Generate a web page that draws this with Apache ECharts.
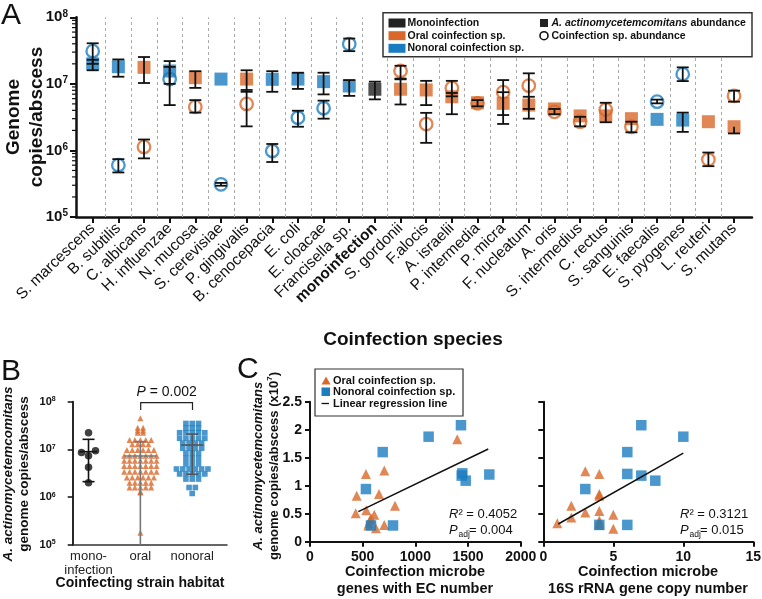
<!DOCTYPE html>
<html><head><meta charset="utf-8">
<script src="https://cdn.jsdelivr.net/npm/echarts@6/dist/echarts.min.js"></script>
<style>html,body{margin:0;padding:0;background:#fff}#c{width:762px;height:599px}</style>
</head><body><div id="c"></div>
<script>
const FONT = 'Liberation Sans, Arial, Helvetica, sans-serif';
const ORANGE = '#d8692a', BLUE = '#1b7dbf', BLACK = '#222';

// ---------- Panel A data ----------
const speciesA = ['S. marcescens','B. subtilis','C. albicans','H. influenzae','N. mucosa','S. cerevisiae','P. gingivalis','B. cenocepacia','E. coli','E. cloacae','Francisella sp.','monoinfection','S. gordonii','F.alocis','A. israelii','P. intermedia','P. micra','F. nucleatum','A. oris','S. intermedius','C. rectus','S. sanguinis','E. faecalis','S. pyogenes','L. reuteri','S. mutans'];
const typeA = ['nonoral','nonoral','oral','nonoral','oral','nonoral','oral','nonoral','nonoral','nonoral','nonoral','mono','oral','oral','oral','oral','oral','oral','oral','oral','oral','oral','nonoral','nonoral','oral','oral'];
const aaMean = [2.0e7,1.81e7,1.77e7,1.56e7,1.24e7,1.18e7,1.18e7,1.17e7,1.18e7,1.08e7,9.3e6,8.3e6,8.3e6,8.1e6,6.4e6,5.2e6,5.1e6,4.8e6,4.2e6,3.3e6,3.3e6,3.0e6,2.93e6,2.86e6,2.7e6,2.27e6];
const aaLow  = [1.6e7,1.28e7,1.03e7,1.0e7,8.7e6,null,7.6e6,7.6e6,8.4e6,6.95e6,6.6e6,5.85e6,4.9e6,4.8e6,3.5e6,null,3.4e6,3.0e6,null,null,null,null,null,1.9e6,null,1.8e6];
const aaHigh = [2.3e7,2.33e7,2.53e7,2.2e7,1.55e7,null,1.6e7,1.55e7,1.47e7,1.47e7,1.14e7,1.08e7,1.17e7,1.11e7,7.3e6,null,7.5e6,6.4e6,null,null,null,null,null,3.7e6,null,null];
const coMean = [3.1e7,6.0e5,1.13e6,1.18e7,4.5e6,3.1e5,5.0e6,9.8e5,3.1e6,4.3e6,3.96e7,null,1.56e7,2.49e6,8.7e6,5.1e6,7.5e6,9.4e6,3.8e6,2.7e6,4.1e6,2.27e6,5.4e6,1.4e7,7.3e5,6.6e6];
const coLow  = [2.0e7,4.67e5,7.6e5,4.8e6,3.7e6,2.95e5,2.3e6,6.7e5,2.27e6,3.0e6,3.1e7,null,1.2e7,1.3e6,6.5e6,4.6e6,2.5e6,4.2e6,3.5e6,2.3e6,2.65e6,1.87e6,5.1e6,1.1e7,5.8e5,5.4e6];
const coHigh = [4.07e7,7.4e5,1.46e6,1.8e7,5.7e6,3.25e5,8.1e6,1.25e6,3.95e6,5.6e6,4.8e7,null,1.87e7,3.67e6,1.11e7,5.7e6,1.14e7,1.44e7,4.2e6,3.2e6,5.2e6,2.7e6,5.8e6,1.77e7,9.3e5,7.9e6];
const minorTicksA = [2e5,3e5,4e5,5e5,6e5,7e5,8e5,9e5,2e6,3e6,4e6,5e6,6e6,7e6,8e6,9e6,2e7,3e7,4e7,5e7,6e7,7e7,8e7,9e7];

// ---------- Panel B data ----------
const habitatB = ['mono-\ninfection','oral','nonoral'];
const monoB = [2.24e7,9.4e6,8.6e6,7.4e6,4.25e6,2.0e6];
const oralB = [4.5e7,2.86e7,2.86e7,2.5e7,2.5e7,2.25e7,2.25e7,
  1.58e7,1.58e7,1.58e7,1.58e7,1.58e7,1.28e7,1.28e7,1.28e7,1.28e7,
  9.8e6,9.8e6,9.8e6,9.8e6,9.8e6,9.8e6,7.4e6,7.4e6,7.4e6,7.4e6,7.4e6,7.4e6,7.4e6,
  5.8e6,5.8e6,5.8e6,5.8e6,5.8e6,5.8e6,5.8e6,4.5e6,4.5e6,4.5e6,4.5e6,4.5e6,4.5e6,4.5e6,
  3.4e6,3.4e6,3.4e6,3.4e6,3.4e6,3.4e6,3.4e6,2.6e6,2.6e6,2.6e6,2.6e6,2.6e6,2.6e6,
  2.0e6,2.0e6,2.0e6,2.0e6,2.0e6,1.6e6,1.6e6,1.6e6,1.6e6,1.6e6,1.3e6,1.25e6,1.8e5];
const nonoralB = [3.5e7,3.5e7,3.5e7,2.8e7,2.8e7,2.8e7,2.24e7,2.24e7,2.24e7,2.24e7,2.24e7,
  1.71e7,1.71e7,1.71e7,1.71e7,1.71e7,1.35e7,1.35e7,1.35e7,1.35e7,1.06e7,1.06e7,1.06e7,1.06e7,
  8.3e6,8.3e6,8.3e6,6.5e6,6.5e6,6.5e6,5.0e6,5.0e6,5.0e6,3.9e6,3.9e6,3.9e6,3.9e6,3.9e6,3.9e6,
  3.07e6,3.07e6,3.07e6,3.07e6,3.07e6,2.4e6,2.4e6,2.4e6,1.6e6,1.6e6,1.2e6];
// mean, -SD (null = below axis), +SD
const statsB = [[9.0e6,2.12e6,1.63e7],[7.3e6,null,1.46e7],[1.24e7,3.03e6,2.1e7]];

// ---------- Panel C data ----------
const ecOral = [[1398,1.83],[705,1.27],[531,1.21],[655,0.85],[443,0.82],[807,0.64],[534,0.56],[434,0.51],[610,0.48],[579,0.42],[569,0.38],[560,0.33],[553,0.29],[705,0.30],[626,0.24]];
const ecNonoral = [[531,0.94],[690,1.6],[1126,1.875],[1433,2.08],[1446,1.22],[1440,1.18],[1478,1.09],[1702,1.2],[579,0.29],[788,0.29]];
const ecReg = [[459,0.536],[1692,1.655]];
const rrnOral = [[3,1.26],[4,1.21],[4,0.85],[4,0.82],[2,0.64],[4,0.55],[3,0.52],[5,0.48],[2,0.43],[4,0.38],[1,0.33],[4,0.30],[5,0.23],[4,0.33]];
const rrnNonoral = [[7,2.08],[10,1.875],[6,1.6],[6,1.21],[7,1.18],[8,1.09],[3,0.94],[4,0.3],[6,0.3]];
const rrnReg = [[1.07,0.316],[10,1.58]];

// ---------- helpers ----------
const colorOf = t => t === 'oral' ? ORANGE : (t === 'nonoral' ? BLUE : BLACK);
const A_XMIN = -0.651, A_XMAX = 25.7;
const B_XMIN = -0.305, B_XMAX = 2.671, B_PX_UNIT = 51.85, B_PX_DEC = 47.8;

function swarm(vals, idx, d) {
  const order = vals.map((v, k) => k).sort((a, b) => vals[a] - vals[b]);
  const placed = [];
  const res = [];
  order.forEach(k => {
    const y = Math.log10(vals[k]) * B_PX_DEC;
    for (let j = 0; j < 200; j++) {
      const m = Math.ceil(j / 2) * (j % 2 ? -1 : 1);
      const x = m * d / 2;
      if (!placed.some(p => (p[0] - x) ** 2 + (p[1] - y) ** 2 < d * d - 0.01)) {
        placed.push([x, y]);
        res.push([idx + x / B_PX_UNIT, vals[k]]);
        break;
      }
    }
  });
  return res;
}
function rows(vals, idx, s) {
  const groups = new Map();
  vals.forEach(v => groups.set(v, (groups.get(v) || 0) + 1));
  const res = [];
  groups.forEach((n, v) => {
    for (let k = 0; k < n; k++) res.push([idx + (k - (n - 1) / 2) * s / B_PX_UNIT, v]);
  });
  return res;
}

function logLabel(size, sup) {
  return {
    formatter: v => '{b|10}{s|' + Math.round(Math.log10(v)) + '}',
    rich: {
      b: { fontSize: size, fontWeight: 'bold', fontFamily: FONT, color: '#111' },
      s: { fontSize: sup, fontWeight: 'bold', fontFamily: FONT, color: '#111', verticalAlign: 'top', padding: [0, 0, size * 0.45, 0] }
    }
  };
}

const errA = [];
function pushErr(i, mean, lo, hi) {
  if (mean == null) return;
  if (lo == null && hi == null) return;
  errA.push([i, lo == null ? mean : lo, hi == null ? mean : hi, lo == null ? 0 : 1, hi == null ? 0 : 1]);
}
speciesA.forEach((s, i) => { pushErr(i, aaMean[i], aaLow[i], aaHigh[i]); pushErr(i, coMean[i], coLow[i], coHigh[i]); });

const option = {
  animation: false,
  backgroundColor: '#fff',
  grid: [
    { left: 76, top: 17.3, width: 676, height: 199.7, outerBoundsMode: 'none' },
    { left: 72.7, top: 401.7, width: 154.3, height: 143.3, outerBoundsMode: 'none' },
    { left: 310, top: 401.7, width: 210.7, height: 140, outerBoundsMode: 'none' },
    { left: 543.3, top: 401.7, width: 210, height: 140, outerBoundsMode: 'none' }
  ],
  xAxis: [
    { gridIndex: 0, type: 'value', min: A_XMIN, max: A_XMAX, splitLine: { show: false },
      axisLine: { show: true, onZero: false, lineStyle: { color: '#111', width: 2.5 } },
      axisTick: { show: true, customValues: speciesA.map((s, i) => i), length: 6, lineStyle: { color: '#111', width: 2 } },
      axisLabel: { customValues: speciesA.map((s, i) => i), rotate: 44, margin: 9, fontSize: 15.5, fontFamily: FONT, color: '#111',
        formatter: v => { const s = speciesA[Math.round(v)]; return s === 'monoinfection' ? '{b|' + s + '}' : s; },
        rich: { b: { fontSize: 15.5, fontWeight: 'bold', fontFamily: FONT, color: '#111' } } } },
    { gridIndex: 1, type: 'value', min: B_XMIN, max: B_XMAX, splitLine: { show: false },
      axisLine: { show: true, onZero: false, lineStyle: { color: '#333', width: 1.5 } },
      axisTick: { show: false },
      axisLabel: { customValues: [0, 1, 2], margin: 4, fontSize: 13, lineHeight: 14, fontFamily: FONT, color: '#222',
        formatter: v => habitatB[Math.round(v)] } },
    { gridIndex: 2, type: 'value', min: 0, max: 2000, interval: 500, splitLine: { show: false },
      axisLine: { show: true, onZero: false, lineStyle: { color: '#111', width: 2 } },
      axisTick: { length: 5, lineStyle: { color: '#111', width: 2 } },
      axisLabel: { fontSize: 14, fontWeight: 'bold', fontFamily: FONT, color: '#111', margin: 8, formatter: v => String(v) } },
    { gridIndex: 3, type: 'value', min: 0, max: 15, interval: 5, splitLine: { show: false },
      axisLine: { show: true, onZero: false, lineStyle: { color: '#111', width: 2 } },
      axisTick: { length: 5, lineStyle: { color: '#111', width: 2 } },
      axisLabel: { fontSize: 14, fontWeight: 'bold', fontFamily: FONT, color: '#111', margin: 8, formatter: v => String(v) } }
  ],
  yAxis: [
    { gridIndex: 0, type: 'log', logBase: 10, min: 1e5, max: 1e8, splitLine: { show: false },
      axisLine: { show: true, onZero: false, lineStyle: { color: '#111', width: 2.5 } },
      axisTick: { length: 6, lineStyle: { color: '#111', width: 2 } },
      axisLabel: Object.assign({ margin: 8 }, logLabel(15, 10)) },
    { gridIndex: 1, type: 'log', logBase: 10, min: 1e5, max: 1e8, splitLine: { show: false },
      axisLine: { show: true, onZero: false, lineStyle: { color: '#111', width: 1.8 } },
      axisTick: { length: 5, lineStyle: { color: '#111', width: 1.5 } },
      axisLabel: Object.assign({ margin: 17 }, logLabel(11, 7)) },
    { gridIndex: 2, type: 'value', min: 0, max: 2.5, interval: 0.5, splitLine: { show: false },
      axisLine: { show: true, onZero: false, lineStyle: { color: '#111', width: 2 } },
      axisTick: { length: 5, lineStyle: { color: '#111', width: 2 } },
      axisLabel: { fontSize: 14, fontWeight: 'bold', fontFamily: FONT, color: '#111', margin: 8 } },
    { gridIndex: 3, type: 'value', min: 0, max: 2.5, interval: 0.5, splitLine: { show: false },
      axisLine: { show: true, onZero: false, lineStyle: { color: '#111', width: 2 } },
      axisTick: { length: 5, lineStyle: { color: '#111', width: 2 } },
      axisLabel: { show: false } }
  ],
  series: [
    { type: 'scatter', xAxisIndex: 0, yAxisIndex: 0, data: [], z: 1,
      markLine: { silent: true, symbol: 'none', label: { show: false },
        lineStyle: { type: [3, 3], color: '#aaa', width: 1 },
        data: speciesA.slice(1).map((s, i) => ({ xAxis: i + 0.5 })) } },
    { type: 'custom', xAxisIndex: 0, yAxisIndex: 0, clip: false, z: 5, silent: true,
      data: minorTicksA.map(v => [A_XMIN, v]),
      renderItem: (p, api) => { const c = api.coord([api.value(0), api.value(1)]);
        return { type: 'line', shape: { x1: c[0] - 4, y1: c[1], x2: c[0], y2: c[1] }, style: { stroke: '#111', lineWidth: 1.2 } }; } },
    { type: 'scatter', xAxisIndex: 0, yAxisIndex: 0, symbol: 'rect', symbolSize: 13, z: 2,
      data: aaMean.map((v, i) => ({ value: [i, v], itemStyle: { color: colorOf(typeA[i]) } })) },
    { type: 'scatter', xAxisIndex: 0, yAxisIndex: 0, symbol: 'circle', symbolSize: 12.5, z: 3,
      data: coMean.map((v, i) => v == null ? null : ({ value: [i, v], itemStyle: { color: 'rgba(255,255,255,0)', borderColor: colorOf(typeA[i]), borderWidth: 2.3 } })).filter(d => d) },
    { type: 'custom', xAxisIndex: 0, yAxisIndex: 0, z: 4, silent: true, data: errA,
      renderItem: (p, api) => {
        const lo = api.coord([api.value(0), api.value(1)]), hi = api.coord([api.value(0), api.value(2)]);
        const ch = [{ type: 'line', shape: { x1: lo[0], y1: lo[1], x2: hi[0], y2: hi[1] }, style: { stroke: '#111', lineWidth: 1.8 } }];
        if (api.value(3)) ch.push({ type: 'line', shape: { x1: lo[0] - 6, y1: lo[1], x2: lo[0] + 6, y2: lo[1] }, style: { stroke: '#111', lineWidth: 1.8 } });
        if (api.value(4)) ch.push({ type: 'line', shape: { x1: hi[0] - 6, y1: hi[1], x2: hi[0] + 6, y2: hi[1] }, style: { stroke: '#111', lineWidth: 1.8 } });
        return { type: 'group', children: ch };
      } },
    { type: 'scatter', xAxisIndex: 1, yAxisIndex: 1, symbol: 'circle', symbolSize: 7.5, itemStyle: { color: '#111' }, data: swarm(monoB, 0, 7) },
    { type: 'scatter', xAxisIndex: 1, yAxisIndex: 1, symbol: 'triangle', symbolSize: 6, itemStyle: { color: ORANGE }, data: rows(oralB, 1, 5.4) },
    { type: 'scatter', xAxisIndex: 1, yAxisIndex: 1, symbol: 'rect', symbolSize: 5.6, itemStyle: { color: BLUE }, data: rows(nonoralB, 2, 6.3) },
    { type: 'custom', xAxisIndex: 1, yAxisIndex: 1, z: 5, silent: true, clip: false,
      data: statsB.map((s, i) => [i, s[0], s[1] == null ? 1e5 : s[1], s[2], s[1] == null ? 0 : 1]),
      renderItem: (p, api) => {
        const i = p.dataIndex;
        const col = ['#111', '#777', '#555'][i], mw = [9, 16, 11][i];
        const x = api.value(0);
        const m = api.coord([x, api.value(1)]), lo = api.coord([x, api.value(2)]), hi = api.coord([x, api.value(3)]);
        const st = { stroke: col, lineWidth: 1.6 };
        const ch = [
          { type: 'line', shape: { x1: lo[0], y1: lo[1], x2: hi[0], y2: hi[1] }, style: st },
          { type: 'line', shape: { x1: m[0] - mw, y1: m[1], x2: m[0] + mw, y2: m[1] }, style: st },
          { type: 'line', shape: { x1: hi[0] - 6, y1: hi[1], x2: hi[0] + 6, y2: hi[1] }, style: st }
        ];
        if (api.value(4)) ch.push({ type: 'line', shape: { x1: lo[0] - 6, y1: lo[1], x2: lo[0] + 6, y2: lo[1] }, style: st });
        return { type: 'group', children: ch };
      } },
    { type: 'scatter', xAxisIndex: 2, yAxisIndex: 2, symbol: 'triangle', symbolSize: 10, itemStyle: { color: ORANGE }, data: ecOral },
    { type: 'scatter', xAxisIndex: 2, yAxisIndex: 2, symbol: 'rect', symbolSize: 10.5, itemStyle: { color: BLUE }, data: ecNonoral },
    { type: 'line', xAxisIndex: 2, yAxisIndex: 2, symbol: 'none', lineStyle: { color: '#111', width: 1.5 }, data: ecReg, z: 4 },
    { type: 'scatter', xAxisIndex: 3, yAxisIndex: 3, symbol: 'triangle', symbolSize: 10, itemStyle: { color: ORANGE }, data: rrnOral },
    { type: 'scatter', xAxisIndex: 3, yAxisIndex: 3, symbol: 'rect', symbolSize: 10.5, itemStyle: { color: BLUE }, data: rrnNonoral },
    { type: 'line', xAxisIndex: 3, yAxisIndex: 3, symbol: 'none', lineStyle: { color: '#111', width: 1.5 }, data: rrnReg, z: 4 }
  ],
  graphic: []
};

const T = (x, y, text, font, extra) => ({ type: 'text', x, y, z: 100,
  style: Object.assign({ text, font, fill: '#111', align: 'left', verticalAlign: 'middle' }, extra || {}) });
const g = [];
g.push(T(1, 16, 'A', '30px ' + FONT));
g.push(T(1, 372, 'B', '30px ' + FONT));
g.push(T(237, 370, 'C', '30px ' + FONT));
g.push({ type: 'text', x: 25, y: 117, rotation: Math.PI / 2, z: 100,
  style: { text: 'Genome\ncopies/abscess', font: 'bold 19px ' + FONT, fill: '#111', align: 'center', verticalAlign: 'middle', lineHeight: 23 } });
g.push(T(413, 340, 'Coinfection species', 'bold 19px ' + FONT, { align: 'center' }));
g.push({ type: 'rect', z: 99, shape: { x: 383, y: 12.7, width: 369, height: 44 }, style: { fill: '#fff', stroke: '#333', lineWidth: 1.5 } });
[[BLACK, 'Monoinfection', 23], [ORANGE, 'Oral coinfection sp.', 35.7], [BLUE, 'Nonoral coinfection sp.', 48.3]].forEach(r => {
  g.push({ type: 'rect', z: 100, shape: { x: 388.5, y: r[2] - 4.5, width: 17, height: 9 }, style: { fill: r[0] } });
  g.push(T(407.5, r[2], r[1], 'bold 10.5px ' + FONT));
});
g.push({ type: 'rect', z: 100, shape: { x: 540, y: 19, width: 8, height: 8 }, style: { fill: '#222' } });
g.push({ type: 'text', x: 551.5, y: 23, z: 100, style: { text: '{i|A. actinomycetemcomitans}{b| abundance}', align: 'left', verticalAlign: 'middle',
  rich: { i: { font: 'italic bold 10.5px ' + FONT, fill: '#111' }, b: { font: 'bold 10.5px ' + FONT, fill: '#111' } } } });
g.push({ type: 'circle', z: 100, shape: { cx: 544, cy: 35.7, r: 4 }, style: { fill: 'none', stroke: '#111', lineWidth: 1.6 } });
g.push(T(551.5, 35.7, 'Coinfection sp. abundance', 'bold 10.5px ' + FONT));

g.push({ type: 'text', x: 16, y: 474, rotation: Math.PI / 2, z: 100,
  style: { text: '{i|A. actinomycetemcomitans}\n{b|genome copies/abscess}', align: 'center', verticalAlign: 'middle',
    rich: { i: { font: 'italic bold 13.5px ' + FONT, fill: '#111', lineHeight: 16 }, b: { font: 'bold 13.5px ' + FONT, fill: '#111', lineHeight: 16 } } } });
g.push(T(140, 583, 'Coinfecting strain habitat', 'bold 14px ' + FONT, { align: 'center' }));
g.push({ type: 'polyline', z: 100, shape: { points: [[140.7, 410], [140.7, 402.7], [192.5, 402.7], [192.5, 410]] }, style: { stroke: '#222', lineWidth: 1.2, fill: null } });
g.push({ type: 'text', x: 166.7, y: 392, z: 100, style: { text: '{i|P}{n| = 0.002}', align: 'center', verticalAlign: 'middle',
  rich: { i: { font: 'italic 14px ' + FONT, fill: '#111' }, n: { font: '14px ' + FONT, fill: '#111' } } } });

g.push({ type: 'text', x: 266, y: 466, rotation: Math.PI / 2, z: 100,
  style: { text: '{i|A. actinomycetemcomitans}\n{b|genome copies/abscess (x10}{s|7}{b|)}', align: 'center', verticalAlign: 'middle',
    rich: { i: { font: 'italic bold 13px ' + FONT, fill: '#111', lineHeight: 16 }, b: { font: 'bold 13px ' + FONT, fill: '#111', lineHeight: 16 },
      s: { font: 'bold 8px ' + FONT, fill: '#111', lineHeight: 16, verticalAlign: 'top' } } } });
g.push(T(415, 571.7, 'Coinfection microbe', 'bold 14.5px ' + FONT, { align: 'center' }));
g.push(T(415, 588.5, 'genes with EC number', 'bold 14.5px ' + FONT, { align: 'center' }));
g.push(T(648, 571.7, 'Coinfection microbe', 'bold 14.5px ' + FONT, { align: 'center' }));
g.push(T(648, 588.5, '16S rRNA gene copy number', 'bold 14.5px ' + FONT, { align: 'center' }));
function statText(x, r2, p) {
  g.push({ type: 'text', x: x, y: 514, z: 100, style: { text: '{i|R}{n|² = ' + r2 + '}', align: 'left', verticalAlign: 'middle',
    rich: { i: { font: 'italic 13px ' + FONT, fill: '#111' }, n: { font: '13px ' + FONT, fill: '#111' } } } });
  g.push(T(x, 530, 'P', 'italic 13px ' + FONT));
  g.push(T(x + 9.5, 535, 'adj', '8.5px ' + FONT));
  g.push(T(x + 20, 530, '= ' + p, '13px ' + FONT));
}
statText(449, '0.4052', '0.004');
statText(680, '0.3121', '0.015');
g.push({ type: 'rect', z: 99, shape: { x: 315, y: 369, width: 148, height: 47 }, style: { fill: '#fff', stroke: '#333', lineWidth: 1.2 } });
g.push({ type: 'polygon', z: 100, shape: { points: [[326, 376.5], [330.5, 384.5], [321.5, 384.5]] }, style: { fill: ORANGE } });
g.push({ type: 'rect', z: 100, shape: { x: 321.5, y: 387.5, width: 8.5, height: 8.5 }, style: { fill: BLUE } });
g.push({ type: 'line', z: 100, shape: { x1: 321.5, y1: 403.5, x2: 329, y2: 403.5 }, style: { stroke: '#111', lineWidth: 1.3 } });
g.push(T(333, 380.7, 'Oral coinfection sp.', 'bold 11px ' + FONT));
g.push(T(333, 392.2, 'Nonoral coinfection sp.', 'bold 11px ' + FONT));
g.push(T(333, 403.7, 'Linear regression line', 'bold 11px ' + FONT));
option.graphic = g;

const chart = echarts.init(document.getElementById('c'), null, { renderer: 'canvas' });
chart.setOption(option);
</script>
</body></html>
